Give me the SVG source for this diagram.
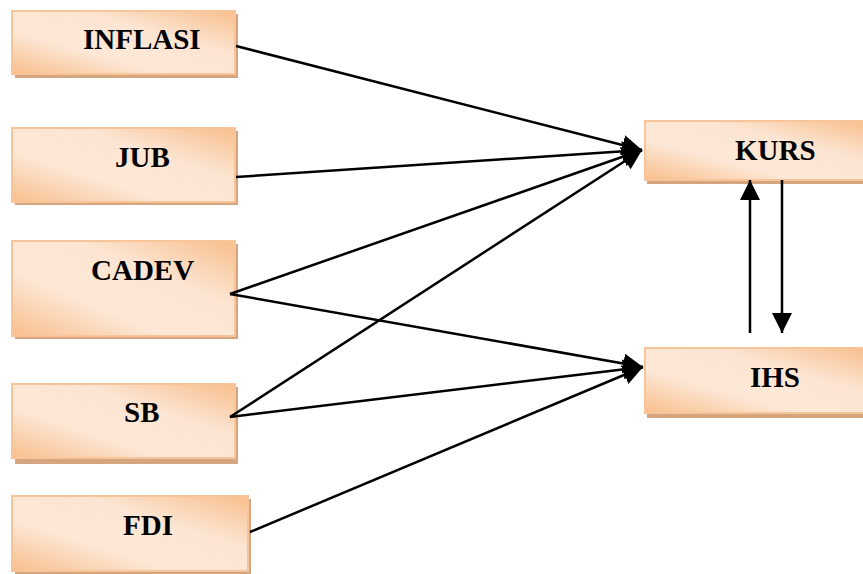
<svg xmlns="http://www.w3.org/2000/svg" width="863" height="574" viewBox="0 0 863 574">
<style>
.box{fill:url(#g);stroke:#F8C49A;stroke-width:2}
.sh{fill:#D4A57E}
.t{font-family:"Liberation Serif","DejaVu Serif",serif;font-weight:bold;font-size:29px;fill:#000}
.c{stroke:#000;stroke-width:2.5;fill:none;marker-end:url(#a)}
</style>
<defs>
<linearGradient id="g" x1="0" y1="1" x2="1" y2="0">
<stop offset="0" stop-color="#F8BE8C"/>
<stop offset="0.35" stop-color="#FDE8D7"/>
<stop offset="0.65" stop-color="#FCE5D2"/>
<stop offset="1" stop-color="#F8BE8C"/>
</linearGradient>
<marker id="a" markerWidth="8" markerHeight="8" refX="7" refY="3.5" orient="auto" markerUnits="strokeWidth" viewBox="0 0 7 7">
<path d="M0,0 L7,3.5 L0,7 Z" fill="#000"/>
</marker>
</defs>
<g id="inflasi"><rect class="sh" x="15" y="14" width="223" height="64"/><rect class="box" x="12" y="11" width="223" height="63"/><text class="t" x="83" y="49">INFLASI</text></g>
<g id="jub"><rect class="sh" x="15" y="131" width="223" height="74"/><rect class="box" x="12" y="128" width="223" height="74"/><text class="t" x="115" y="167">JUB</text></g>
<g id="cadev"><rect class="sh" x="15" y="244" width="223" height="95"/><rect class="box" x="12" y="241" width="223" height="95"/><text class="t" x="91" y="280">CADEV</text></g>
<g id="sb"><rect class="sh" x="15" y="387" width="223" height="77"/><rect class="box" x="12" y="384" width="223" height="74"/><text class="t" x="124" y="422">SB</text></g>
<g id="fdi"><rect class="sh" x="15" y="499" width="236" height="75"/><rect class="box" x="12" y="496" width="236" height="75"/><text class="t" x="123" y="535">FDI</text></g>
<g id="kurs"><rect class="sh" x="647" y="124" width="220" height="60"/><rect class="box" x="645" y="121" width="222" height="59"/><text class="t" x="735" y="160">KURS</text></g>
<g id="ihs"><rect class="sh" x="647" y="351" width="220" height="67"/><rect class="box" x="645" y="348" width="222" height="65"/><text class="t" x="750" y="387">IHS</text></g>
<g id="connectors">
<line class="c" x1="236" y1="46" x2="642" y2="150"/>
<line class="c" x1="236" y1="177" x2="642" y2="150"/>
<line class="c" x1="230" y1="294" x2="642" y2="150"/>
<line class="c" x1="230" y1="294" x2="643" y2="367"/>
<line class="c" x1="230" y1="417" x2="642" y2="150"/>
<line class="c" x1="230" y1="417" x2="643" y2="367"/>
<line class="c" x1="250" y1="532" x2="643" y2="367"/>
<line class="c" x1="750" y1="333" x2="750" y2="180"/>
<line class="c" x1="782" y1="180" x2="782" y2="333"/>
</g>
</svg>
